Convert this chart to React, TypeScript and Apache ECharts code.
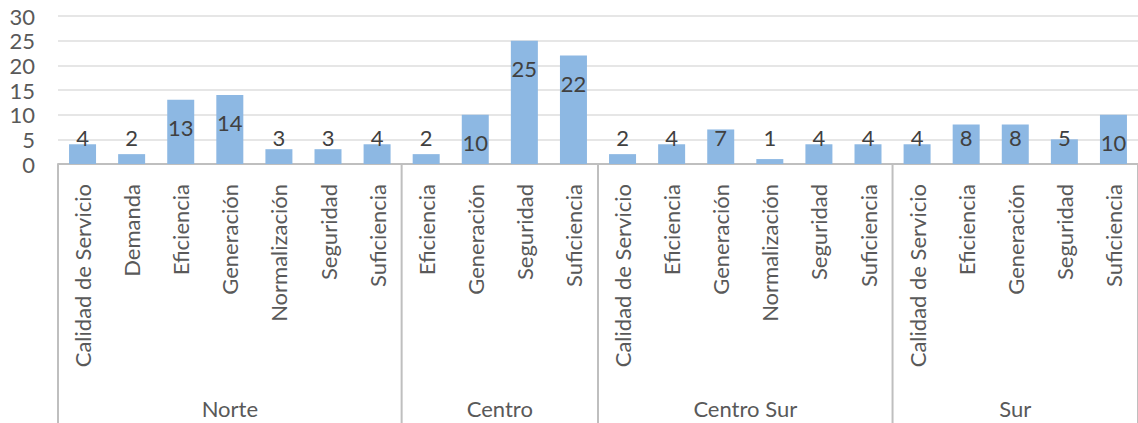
import React, { useEffect, useRef } from "react";
import * as echarts from "echarts";

const groups: string[] = ["Norte", "Centro", "Centro Sur", "Sur"];
const norteCats: string[] = ["Calidad de Servicio", "Demanda", "Eficiencia", "Generación", "Normalización", "Seguridad", "Suficiencia"];
const centroCats: string[] = ["Eficiencia", "Generación", "Seguridad", "Suficiencia"];
const centroSurCats: string[] = ["Calidad de Servicio", "Eficiencia", "Generación", "Normalización", "Seguridad", "Suficiencia"];
const surCats: string[] = ["Calidad de Servicio", "Eficiencia", "Generación", "Seguridad", "Suficiencia"];
const norteValues: number[] = [4, 2, 13, 14, 3, 3, 4];
const centroValues: number[] = [2, 10, 25, 22];
const centroSurValues: number[] = [2, 4, 7, 1, 4, 4];
const surValues: number[] = [4, 8, 8, 5, 10];
const yMin = 0;
const yMax = 30;
const yInterval = 5;

const groupCats = [norteCats, centroCats, centroSurCats, surCats];
const groupVals = [norteValues, centroValues, centroSurValues, surValues];

const FONT = "Lato, 'Open Sans', sans-serif";
const TEXT = "#595959";
const LINE = "#BFBFBF";
const BAR = "#8DB8E3";
const FS = 22;

export default function App() {
  const ref = useRef<HTMLDivElement>(null);
  useEffect(() => {
    if (!ref.current) return;
    const chart = echarts.init(ref.current, undefined, { renderer: "svg" });
    const categories: string[] = [];
    const values: number[] = [];
    groupCats.forEach((c, i) => {
      c.forEach((n, j) => {
        categories.push(n);
        values.push(groupVals[i][j]);
      });
    });
    const data = values.map((v) => ({
      value: v,
      label:
        v >= 10
          ? { position: "insideTop", distance: 17 }
          : { position: "insideBottom", distance: 16 },
    }));
    chart.setOption({
      animation: false,
      grid: { left: 58, top: 16, width: 1085, height: 148, containLabel: false },
      xAxis: {
        type: "category",
        data: categories,
        axisTick: { show: false },
        axisLine: { show: true, lineStyle: { color: LINE, width: 2 } },
        axisLabel: {
          rotate: 90,
          interval: 0,
          margin: 20,
          color: TEXT,
          fontSize: FS,
          fontFamily: FONT,
        },
      },
      yAxis: {
        type: "value",
        min: yMin,
        max: yMax,
        interval: yInterval,
        axisLine: { show: false },
        axisTick: { show: false },
        splitLine: { lineStyle: { color: "#DEDEDE", width: 1.5 } },
        axisLabel: { color: TEXT, fontSize: FS, fontFamily: FONT, margin: 23 },
      },
      series: [
        {
          type: "bar",
          data,
          barWidth: "55%",
          itemStyle: { color: BAR },
          label: {
            show: true,
            color: "#404040",
            fontSize: FS,
            fontFamily: FONT,
          },
        },
      ],
    });

    const x0 = chart.convertToPixel({ xAxisIndex: 0 }, 0) as number;
    const x1 = chart.convertToPixel({ xAxisIndex: 0 }, 1) as number;
    const band = x1 - x0;
    const yBase = chart.convertToPixel({ yAxisIndex: 0 }, 0) as number;
    const elements: any[] = [];
    let start = 0;
    groupCats.forEach((c, i) => {
      const left = (chart.convertToPixel({ xAxisIndex: 0 }, start) as number) - band / 2;
      const right = left + band * c.length;
      if (i === 0) {
        elements.push({
          type: "line",
          shape: { x1: left, y1: yBase, x2: left, y2: 430 },
          style: { stroke: LINE, lineWidth: 2 },
        });
      }
      elements.push({
        type: "line",
        shape: { x1: right, y1: yBase, x2: right, y2: 430 },
        style: { stroke: LINE, lineWidth: 2 },
      });
      elements.push({
        type: "text",
        x: (left + right) / 2,
        y: 408,
        style: {
          text: groups[i],
          fill: TEXT,
          fontSize: FS,
          fontFamily: FONT,
          align: "center",
          verticalAlign: "middle",
        },
      });
      start += c.length;
    });
    chart.setOption({ graphic: elements });
    return () => chart.dispose();
  }, []);
  return (
    <div
      ref={ref}
      style={{ position: "absolute", left: 0, top: 0, width: 1138, height: 423, background: "#fff" }}
    />
  );
}
